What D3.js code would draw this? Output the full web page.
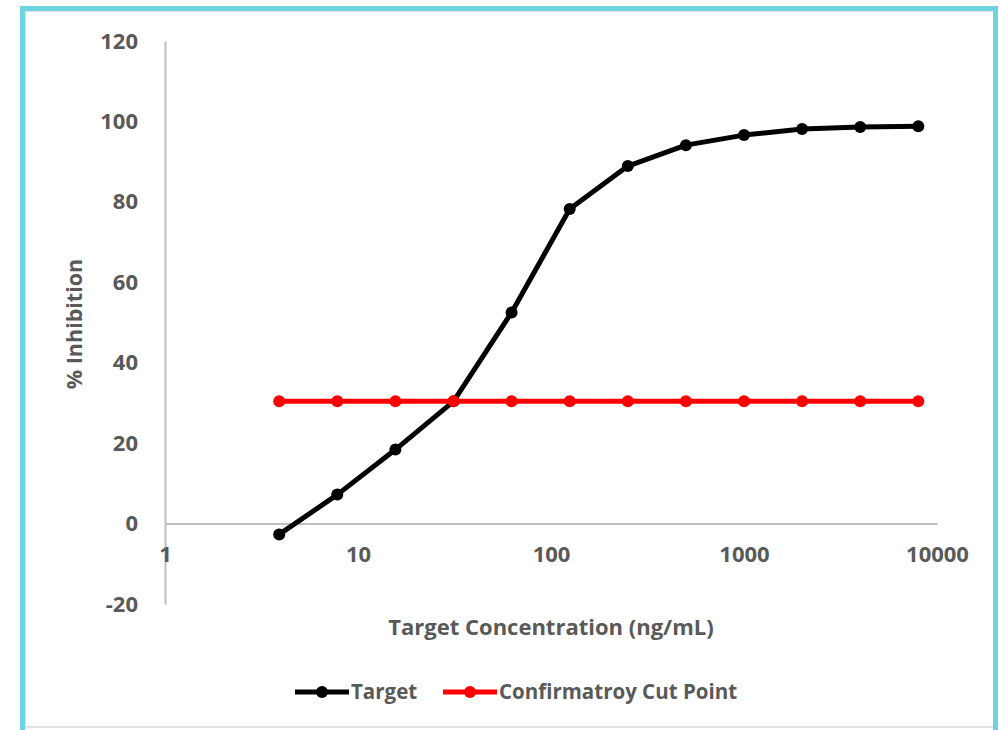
<!DOCTYPE html>
<html>
<head>
<meta charset="utf-8">
<script src="https://cdn.jsdelivr.net/npm/d3@7"></script>
<style>
  body { margin: 0; background: #fff; }
  text { font-family: "Open Sans", Lato, sans-serif; font-weight: bold; fill: #595959; }
</style>
</head>
<body>
<script>
// data
var concentrations = [3.90625, 7.8125, 15.625, 31.25, 62.5, 125, 250, 500, 1000, 2000, 4000, 8000];
var target_values = [-2.7, 7.2, 18.4, 30.4, 52.5, 78.2, 88.9, 94.1, 96.6, 98.1, 98.6, 98.8];
var cutpoint_values = [30.4, 30.4, 30.4, 30.4, 30.4, 30.4, 30.4, 30.4, 30.4, 30.4, 30.4, 30.4];
var x_ticks = [1, 10, 100, 1000, 10000];
var y_ticks = [-20, 0, 20, 40, 60, 80, 100, 120];
var series_names = ["Target", "Confirmatroy Cut Point"];
var series_colors = ["#000000", "#ff0000"];

var width = 1001, height = 730;

var svg = d3.select("body").append("svg")
	.attr("width", width)
	.attr("height", height);

//frame
svg.append("rect")
	.attr("x", 25).attr("y", 11)
	.attr("width", 970).attr("height", 716)
	.style("fill", "none")
	.style("stroke", "#d9d9d9")
	.style("stroke-width", 1.5);
svg.append("rect")
	.attr("x", 22.5).attr("y", 8.5)
	.attr("width", 973).attr("height", 740)
	.style("fill", "none")
	.style("stroke", "#6dd3df")
	.style("stroke-width", 5);

//scales
var x = d3.scaleLog().domain([1, 10000]).range([165, 937]);
var y = d3.scaleLinear().domain([-20, 120]).range([604, 41]);

//y axis
var yAxis = svg.append("g")
	.attr("transform", "translate(" + x(1) + ",0)")
	.call(d3.axisLeft(y).tickValues(y_ticks).tickFormat(function (d) { return String(d); }).tickSize(0).tickPadding(27));
yAxis.select(".domain").style("stroke", "#bfbfbf").style("stroke-width", 2);
yAxis.selectAll("text").style("font-size", "22px");

//x axis crosses at 0
var xAxis = svg.append("g")
	.attr("transform", "translate(0," + y(0) + ")")
	.call(d3.axisBottom(x).tickValues(x_ticks).tickFormat(d3.format("d")).tickSize(0).tickPadding(23));
xAxis.select(".domain").style("stroke", "#bfbfbf").style("stroke-width", 2);
xAxis.selectAll("text").style("font-size", "22px");

//axis titles
svg.append("text")
	.attr("x", 551).attr("y", 635)
	.attr("text-anchor", "middle")
	.style("font-size", "22px")
	.text("Target Concentration (ng/mL)");
svg.append("text")
	.attr("transform", "translate(82,324) rotate(-90)")
	.attr("text-anchor", "middle")
	.style("font-size", "21.5px")
	.text("% Inhibition");

//series
var all_series = [target_values, cutpoint_values];
var line = d3.line()
	.x(function (d, i) { return x(concentrations[i]); })
	.y(function (d) { return y(d); });

[0, 1].forEach(function (s) {
	var g = svg.append("g");
	g.append("path")
		.datum(all_series[s])
		.attr("d", line)
		.style("fill", "none")
		.style("stroke", series_colors[s])
		.style("stroke-width", 5)
		.style("stroke-linejoin", "round");
	g.selectAll("circle")
		.data(all_series[s])
		.enter().append("circle")
		.attr("cx", function (d, i) { return x(concentrations[i]); })
		.attr("cy", function (d) { return y(d); })
		.attr("r", 6)
		.style("fill", series_colors[s]);
});

//legend
var legend_x = [295, 443];
series_names.forEach(function (name, i) {
	var lg = svg.append("g").attr("transform", "translate(" + legend_x[i] + ",692)");
	lg.append("line")
		.attr("x1", 0).attr("x2", 54)
		.style("stroke", series_colors[i])
		.style("stroke-width", 5);
	lg.append("circle")
		.attr("cx", 27).attr("r", 6)
		.style("fill", series_colors[i]);
	lg.append("text")
		.attr("x", 56).attr("y", 7)
		.style("font-size", "20.5px")
		.text(name);
});
</script>
</body>
</html>
